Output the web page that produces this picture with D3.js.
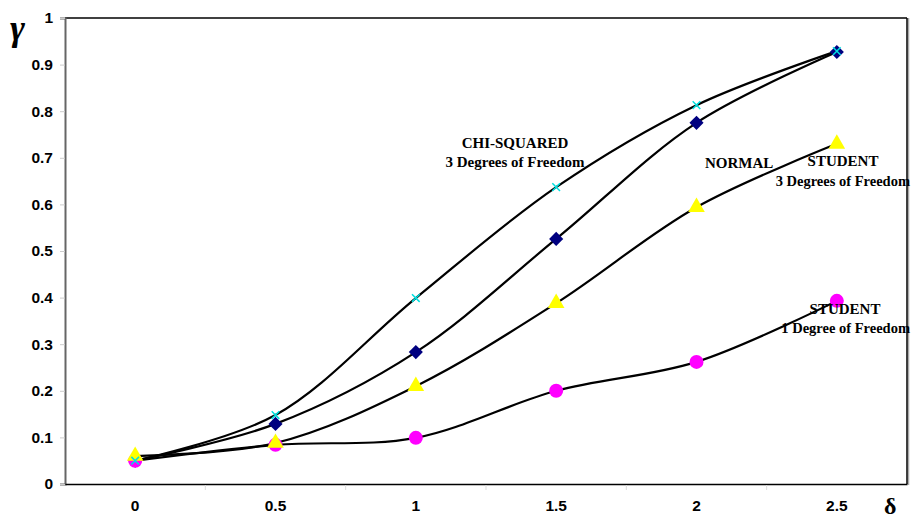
<!DOCTYPE html>
<html><head><meta charset="utf-8">
<script src="https://cdnjs.cloudflare.com/ajax/libs/d3/7.8.5/d3.min.js"></script>
<style>body{margin:0;background:#fff;} svg{display:block;}</style>
</head><body>
<svg id="c" width="912" height="522"></svg>
<script>
const categories = ["0","0.5","1","1.5","2","2.5"];
const yTicks = [0,0.1,0.2,0.3,0.4,0.5,0.6,0.7,0.8,0.9,1];
const normal   = [0.050, 0.129, 0.283, 0.526, 0.775, 0.927];
const chiSq    = [0.050, 0.148, 0.399, 0.637, 0.813, 0.929];
const student3 = [0.060, 0.088, 0.210, 0.388, 0.594, 0.730];
const student1 = [0.050, 0.084, 0.099, 0.200, 0.262, 0.393];

const svg = d3.select("#c");
const L=65, R=907, T=18, B=484;
const x = d3.scaleBand().domain(categories).range([L,R]);
const y = d3.scaleLinear().domain([0,1]).range([B,T]);
const cx = c => x(c)+x.bandwidth()/2;
const SANS = "'Liberation Sans', Arial, sans-serif";
const SERIF = "'Liberation Serif', 'Times New Roman', serif";

// frame
svg.append("line").attr("x1",L).attr("x2",R).attr("y1",T).attr("y2",T).attr("stroke","#000").attr("stroke-width",1.5);
svg.append("line").attr("x1",R+1.5).attr("x2",R+1.5).attr("y1",T).attr("y2",B+1).attr("stroke","#aaa").attr("stroke-width",1.5);
svg.append("line").attr("x1",R).attr("x2",R).attr("y1",T).attr("y2",B).attr("stroke","#000").attr("stroke-width",1.5);

// y axis
const ya = svg.append("g").attr("transform",`translate(${L},0)`)
  .call(d3.axisLeft(y).tickValues(yTicks).tickFormat(d=>d3.format("")(d)).tickSize(5).tickPadding(7));
ya.select(".domain").attr("stroke","#666").attr("stroke-width",2);
ya.selectAll(".tick line").attr("stroke","#ccc");
ya.selectAll(".tick text").style("font-family",SANS).style("font-weight","700").style("font-size","15.5px").attr("fill","#000");

// x axis
const xa = svg.append("g").attr("transform",`translate(0,${B})`)
  .call(d3.axisBottom(x).tickSize(0).tickPadding(16));
xa.select(".domain").attr("stroke","#000").attr("stroke-width",1.5);
xa.selectAll(".tick text").style("font-family",SANS).style("font-weight","700").style("font-size","15.5px").attr("fill","#000");
svg.append("g").selectAll("line").data(categories.slice(1)).join("line")
  .attr("x1",d=>x(d)).attr("x2",d=>x(d)).attr("y1",B+1).attr("y2",B+6).attr("stroke","#ddd");

// axis symbols
svg.append("text").attr("x",10).attr("y",40).text("γ")
  .style("font-family",SERIF).style("font-style","italic").style("font-weight","700").style("font-size","36px").attr("fill","#000");
svg.append("text").attr("x",884).attr("y",514).text("δ")
  .style("font-family",SERIF).style("font-weight","700").style("font-size","24px").attr("fill","#000");

// lines
const line = d3.line().x((d,i)=>cx(categories[i])).y(d=>y(d)).curve(d3.curveCatmullRom.alpha(0.5));
[normal, chiSq, student3, student1].forEach(s=>{
  svg.append("path").attr("d",line(s)).attr("fill","none").attr("stroke","#000").attr("stroke-width",2.2);
});

// markers
const g = svg.append("g");
g.selectAll(".dm").data(normal).join("path")
  .attr("d",d3.symbol(d3.symbolSquare,100)())
  .attr("transform",(d,i)=>`translate(${cx(categories[i])},${y(d)}) rotate(45)`)
  .attr("fill","#000080");
g.selectAll(".ci").data(student1).join("circle")
  .attr("cx",(d,i)=>cx(categories[i])).attr("cy",d=>y(d)).attr("r",7).attr("fill","#ff00ff");
g.selectAll(".tr").data(student3).join("path")
  .attr("d",d3.symbol(d3.symbolTriangle,120)())
  .attr("transform",(d,i)=>`translate(${cx(categories[i])},${y(d)})`)
  .attr("fill","#ffff00");
g.selectAll(".xx").data(chiSq).join("path")
  .attr("d",d3.symbol(d3.symbolTimes,40)())
  .attr("transform",(d,i)=>`translate(${cx(categories[i])},${y(d)})`)
  .attr("fill","none").attr("stroke","#00e0e0").attr("stroke-width",1.5);

// labels
const lab = (t,xx,yy,anchor,fs)=>svg.append("text").attr("x",xx).attr("y",yy).text(t).attr("text-anchor",anchor||"start")
  .style("font-family",SERIF).style("font-weight","700").style("font-size",(fs||15)+"px").attr("fill","#000");
lab("CHI-SQUARED",515,148,"middle");
lab("3 Degrees of Freedom",515,167,"middle");
lab("NORMAL",705,168);
lab("STUDENT",843,166,"middle");
lab("3 Degrees of Freedom",910,186,"end",14.5);
lab("STUDENT",845,314,"middle");
lab("1 Degree of Freedom",910,333,"end",14.5);
</script>
</body></html>
